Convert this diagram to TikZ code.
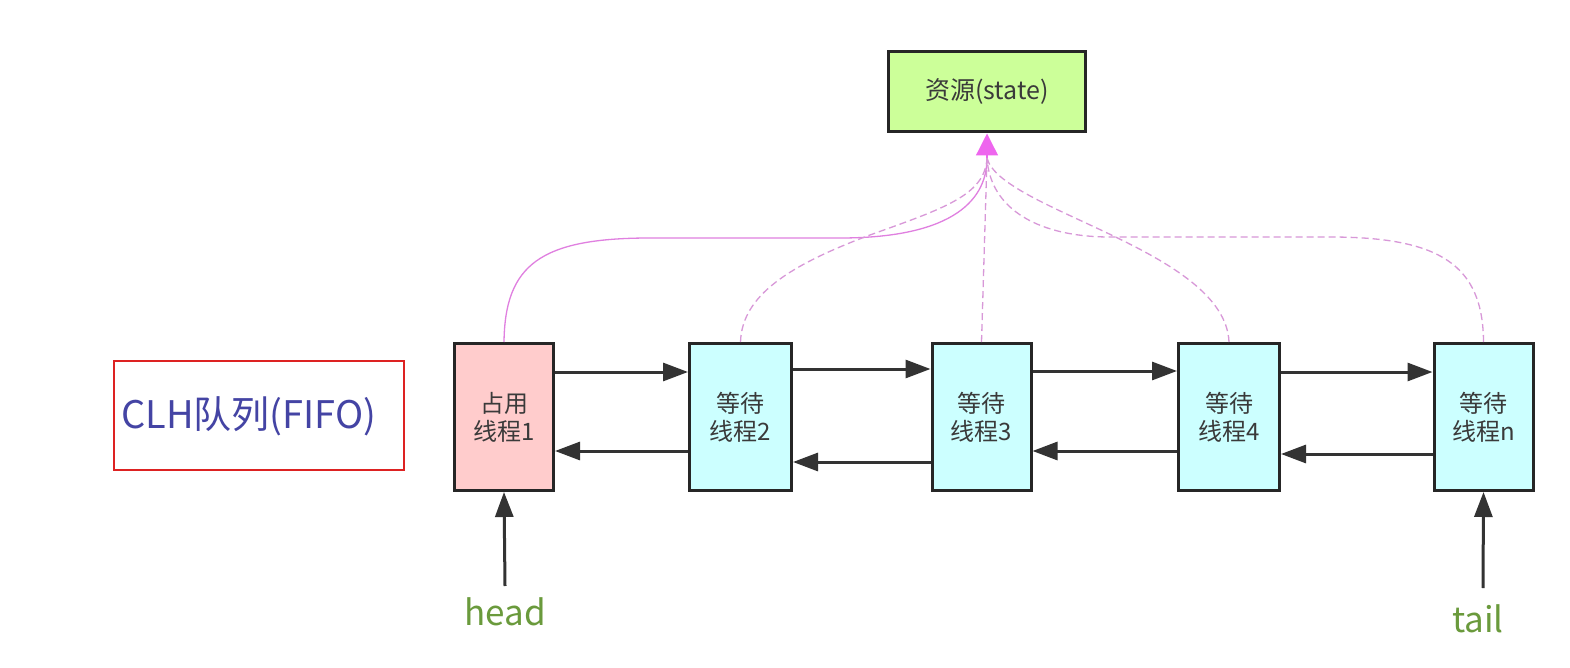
\documentclass[tikz,border=0pt]{standalone}
\usepackage{fontspec}
\setmainfont{Noto Sans CJK SC}
\usetikzlibrary{arrows.meta}
\definecolor{boxline}{HTML}{262626}
\definecolor{arrowgray}{HTML}{333333}
\definecolor{pinkfill}{HTML}{FFCCCC}
\definecolor{cyanfill}{HTML}{CCFFFF}
\definecolor{greenfill}{HTML}{CCFF99}
\definecolor{txtgray}{HTML}{3A3A3A}
\definecolor{clhblue}{HTML}{4444A4}
\definecolor{clhred}{HTML}{DD2222}
\definecolor{lblgreen}{HTML}{6A9A3C}
\definecolor{magtip}{HTML}{EE66EE}
\definecolor{pinkline}{HTML}{E080E0}
\definecolor{pinkdash}{HTML}{D898D8}
\tikzset{
  thr/.style={draw=boxline, line width=3pt, minimum width=99pt, minimum height=147pt,
    inner sep=0pt, align=center, text=txtgray, font=\fontsize{24}{28}\selectfont},
  resbox/.style={draw=boxline, line width=3pt, fill=greenfill, minimum width=197pt,
    minimum height=80pt, inner sep=0pt, text=txtgray, font=\fontsize{25}{30}\selectfont},
  clhbox/.style={draw=clhred, line width=2.5pt, minimum width=290pt, minimum height=109pt,
    inner sep=0pt},
  ptr/.style={draw=arrowgray, line width=3pt, -{Triangle[length=25pt,width=18pt]}},
  lbl/.style={text=lblgreen, font=\fontsize{35}{40}\selectfont, inner sep=0pt},
  occ/.style={draw=pinkline, line width=1.3pt},
  wait/.style={draw=pinkdash, line width=1.3pt, dash pattern=on 7pt off 4pt},
  tiparrow/.style={draw=magtip, line width=1.3pt, -{Triangle[length=22pt,width=22pt,fill=magtip]}}
}
\begin{document}
\begin{tikzpicture}[x=1pt,y=-1pt]
\useasboundingbox (0,0) rectangle (1570,668);
\fill[white] (0,0) rectangle (1570,668);

% resource
\node[resbox] (res) at (987,92) {资源(state)};
\coordinate (hub) at (987,158);

% CLH label
\node[clhbox] (clh) at (259,415.5) {};
\node[text=clhblue, font=\fontsize{38}{44}\selectfont, inner sep=0pt] (clht) at (249,416) {CLH队列(FIFO)};

% thread boxes
\node[thr, fill=pinkfill] (t1) at (504,417) {占用\\线程1};
\node[thr, fill=cyanfill, minimum width=102pt] (t2) at (740.5,417) {等待\\线程2};
\node[thr, fill=cyanfill] (t3) at (981.5,417) {等待\\线程3};
\node[thr, fill=cyanfill, minimum width=101pt] (t4) at (1229,417) {等待\\线程4};
\node[thr, fill=cyanfill] (tn) at (1483.5,417) {等待\\线程n};

% pink links to resource
\draw[occ] (t1.north) .. controls (505,265) and (540,238) .. (650,238) -- (840,238)
  .. controls (945,238) and (987,205) .. (hub);
\draw[wait] (t2.north) .. controls (742,295) and (790,265) .. (870,235)
  .. controls (945,208) and (985,195) .. (hub);
\draw[wait] (t3.north) -- (hub);
\draw[wait] (t4.north) .. controls (1225,250) and (1000,210) .. (hub);
\draw[wait] (tn.north) .. controls (1483,265) and (1440,237) .. (1330,237) -- (1110,237)
  .. controls (1040,237) and (990,210) .. (hub);
\draw[tiparrow] (hub) -- (res.south);

% forward links
\draw[ptr] (t1.east |- 0,372) -- (t2.west |- 0,372);
\draw[ptr] (t2.east |- 0,369) -- (t3.west |- 0,369);
\draw[ptr] (t3.east |- 0,371) -- (t4.west |- 0,371);
\draw[ptr] (t4.east |- 0,372) -- (tn.west |- 0,372);
% backward links
\draw[ptr] (t2.west |- 0,451) -- (t1.east |- 0,451);
\draw[ptr] (t3.west |- 0,462) -- (t2.east |- 0,462);
\draw[ptr] (t4.west |- 0,451) -- (t3.east |- 0,451);
\draw[ptr] (tn.west |- 0,454) -- (t4.east |- 0,454);

% head / tail
\node[lbl] (head) at (505,612) {head};
\node[lbl] (tail) at (1478,619) {tail};
\coordinate (hs) at (505,586);
\coordinate (ts) at (1483,588);
\draw[ptr] (hs) -- (t1.south);
\draw[ptr] (ts) -- (tn.south);
\end{tikzpicture}
\end{document}
